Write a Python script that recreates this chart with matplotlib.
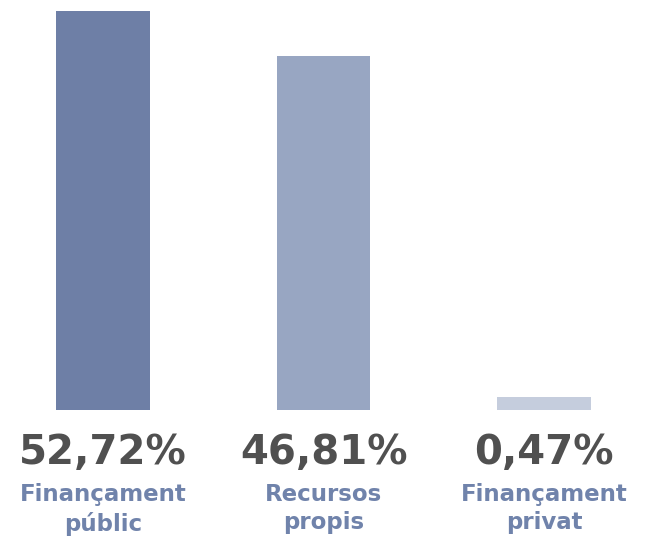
import matplotlib.pyplot as plt

# data
categories = ["Finançament\npúblic", "Recursos\npropis", "Finançament\nprivat"]
values = [52.72, 46.81, 0.47]
value_labels = ["52,72%", "46,81%", "0,47%"]
colors = ["#6e7fa6", "#98a6c2", "#c5cddd"]

# very small shares still get a visible stub, like in the original
min_visible = 1.72


def main():
    fig = plt.figure(figsize=(6.51, 5.39), dpi=100)
    ax = fig.add_axes([0, 129 / 539, 1, 399 / 539])

    x = list(range(len(values)))
    shown = [max(v, min_visible) for v in values]
    ax.bar(x, shown, width=0.426, color=colors)

    ax.set_xlim(-103 / 220.5, (651 - 103) / 220.5)
    ax.set_ylim(0, max(values))
    ax.axis("off")

    # labels under the bars
    for i, (lab, cat) in enumerate(zip(value_labels, categories)):
        ax.annotate(lab, xy=(i, 0), xytext=(0, -43 * 0.72),
                    textcoords="offset points", ha="center", va="center",
                    fontsize=29, fontweight="bold", color="#505050",
                    family="DejaVu Sans", annotation_clip=False)
        ax.annotate(cat, xy=(i, 0), xytext=(0, -73 * 0.72),
                    textcoords="offset points", ha="center", va="top",
                    fontsize=16.5, fontweight="bold", color="#7083ab",
                    linespacing=1.3, family="DejaVu Sans",
                    annotation_clip=False)

    fig.savefig("out.png", dpi=100)
    plt.close(fig)


if __name__ == "__main__":
    main()
